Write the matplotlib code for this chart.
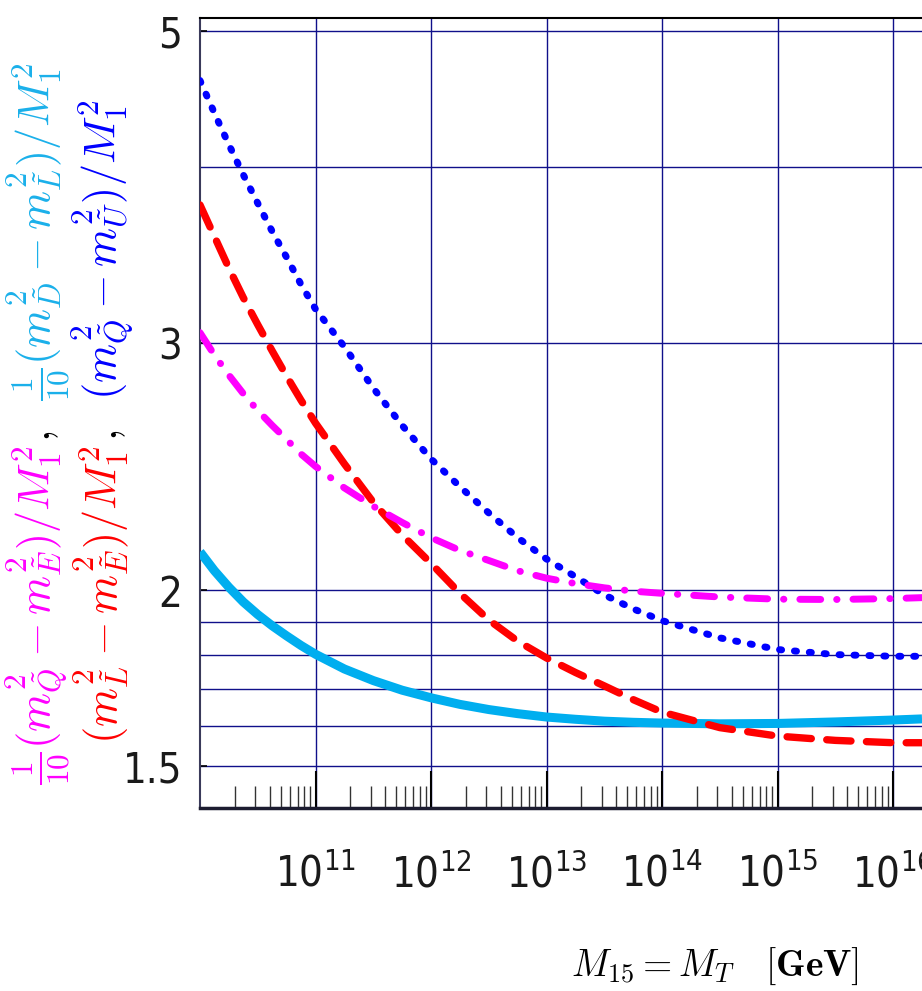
import numpy as np
import matplotlib.pyplot as plt
from matplotlib.transforms import IdentityTransform

plt.rcParams['font.family'] = ['DejaVu Sans']
plt.rcParams['font.stretch'] = 'condensed'

# log10(M_15 / GeV), with M_15 = M_T
log_m = [10.0, 10.125, 10.25, 10.375, 10.5, 10.625, 10.75, 10.875, 11.0,
         11.25, 11.5, 11.75, 12.0, 12.25, 12.5, 12.75, 13.0, 13.25, 13.5,
         13.75, 14.0, 14.5, 15.0, 15.5, 16.0, 16.25]

# mass-squared differences over M_1^2
dl_cyan = [2.13, 2.065, 2.01, 1.962, 1.922, 1.887, 1.856, 1.827, 1.801,
           1.758, 1.725, 1.698, 1.677, 1.659, 1.645, 1.634, 1.625, 1.619,
           1.614, 1.611, 1.609, 1.607, 1.608, 1.612, 1.617, 1.620]
le_red = [3.76, 3.57, 3.39, 3.23, 3.09, 2.96, 2.84, 2.73, 2.63,
          2.46, 2.31, 2.19, 2.09, 1.99, 1.905, 1.84, 1.79, 1.748, 1.71,
          1.672, 1.638, 1.597, 1.575, 1.564, 1.558, 1.558]
qu_blue = [4.61, 4.37, 4.15, 3.95, 3.77, 3.60, 3.45, 3.30, 3.17,
           2.98, 2.785, 2.62, 2.48, 2.37, 2.27, 2.18, 2.105, 2.045, 1.985,
           1.94, 1.903, 1.85, 1.815, 1.80, 1.795, 1.795]
qe_magenta = [3.05, 2.94, 2.845, 2.76, 2.685, 2.62, 2.56, 2.50, 2.45,
              2.365, 2.295, 2.235, 2.18, 2.135, 2.10, 2.065, 2.04, 2.022, 2.008,
              1.997, 1.99, 1.978, 1.971, 1.970, 1.973, 1.976]

y_major = [1.5, 2, 3, 5]
y_major_labels = ['1.5', '2', '3', '5']
y_grid = [1.5, 1.6, 1.7, 1.8, 1.9, 2, 3, 4, 5]
x_decades = [11, 12, 13, 14, 15, 16]

GRID = '#10108a'

W, H = 922, 991
fig = plt.figure(figsize=(W / 100, H / 100), dpi=100)
ax = fig.add_axes([200 / W, 1 - 808 / H, 1 - 200 / W, (808 - 18) / H])

m = 10.0 ** np.array(log_m)
ax.plot(m, dl_cyan, color='#00aeef', lw=6.5, solid_capstyle='butt', zorder=3)
ax.plot(m, le_red, color='#ff0000', lw=5.3, dashes=(3.3, 2.1),
        dash_capstyle='round', zorder=4)
ax.plot(m, qu_blue, color='#0000ff', lw=5.0, dashes=(0.3, 1.85),
        dash_capstyle='round', zorder=4)
ax.plot(m, qe_magenta, color='#ff00ff', lw=5.0, dashes=(3.0, 2.3, 0.05, 2.3),
        dash_capstyle='round', zorder=4)

ax.set_xscale('log')
ax.set_yscale('log')
ax.set_xlim(1e10, 10 ** 16.25)
ax.set_ylim(1.4, 5.107)

# grid drawn by hand so every level gets a line
for v in y_grid:
    ax.axhline(v, color=GRID, lw=1.0, zorder=1)
for d in x_decades:
    ax.axvline(10.0 ** d, color=GRID, lw=1.0, zorder=1)

ax.set_yticks(y_major, y_major_labels)
ax.yaxis.set_minor_locator(plt.NullLocator())
ax.tick_params(axis='y', which='major', direction='in', length=5, width=1.2,
               color='black', labelsize=30, pad=13)

ax.set_xticks([10.0 ** d for d in x_decades],
              [r'$\mathdefault{10^{%d}}$' % d for d in x_decades])
minors = [k * 10.0 ** d for d in range(10, 17) for k in range(2, 10)]
ax.set_xticks([v for v in minors if v < 10 ** 16.25], minor=True)
ax.xaxis.set_minor_formatter(plt.NullFormatter())
ax.tick_params(axis='x', which='major', direction='in', length=27, width=1.5,
               color='black', labelsize=30, pad=33)
ax.tick_params(axis='x', which='minor', direction='in', length=16, width=1.0,
               color='#333333')
ax.tick_params(top=False, right=False)
for lab in ax.get_xticklabels() + ax.get_yticklabels():
    lab.set_fontstretch('condensed')
    lab.set_color('#1a1a1a')

ax.spines['right'].set_visible(False)
ax.spines['top'].set_color('black')
ax.spines['top'].set_linewidth(1.5)
ax.spines['left'].set_color('#3a3a5a')
ax.spines['left'].set_linewidth(1.5)
ax.spines['bottom'].set_color('#1c1c30')
ax.spines['bottom'].set_linewidth(2.5)

# x-axis label
fig.text(715 / W, 1 - 976 / H, r'$M_{15} = M_T\quad[\mathbf{GeV}]$',
         ha='center', va='baseline', fontsize=27, math_fontfamily='cm')

# two-line coloured y label: (text, colour, gap after it in pixels)
line1 = [(r'$\frac{1}{10}(m^2_{\tilde{Q}} - m^2_{\tilde{E}})/M_1^2$', '#ff00ff', 4),
         (r'$,$', 'black', 30),
         (r'$\frac{1}{10}(m^2_{\tilde{D}} - m^2_{\tilde{L}})/M_1^2$', '#1ab0ea', 0)]
line2 = [(r'$(m^2_{\tilde{L}} - m^2_{\tilde{E}})/M_1^2$', '#ff0000', 4),
         (r'$,$', 'black', 30),
         (r'$(m^2_{\tilde{Q}} - m^2_{\tilde{U}})/M_1^2$', '#0000ff', 0)]

renderer = fig.canvas.get_renderer()


def vertical_label(pieces, x_base, y_mid, size):
    texts = []
    for s, c, gap in pieces:
        t = fig.text(0, 0, s, color=c, fontsize=size, rotation=90,
                     rotation_mode='anchor', ha='left', va='baseline',
                     transform=IdentityTransform(), math_fontfamily='cm')
        texts.append(t)
    steps = [t.get_window_extent(renderer).height + p[2]
             for t, p in zip(texts, pieces)]
    y = y_mid - sum(steps) / 2
    for t, step in zip(texts, steps):
        t.set_position((x_base, y))
        y += step


vertical_label(line1, 50, H - 424, 32)
vertical_label(line2, 117, H - 422, 32)

fig.savefig('out.png', dpi=100)
